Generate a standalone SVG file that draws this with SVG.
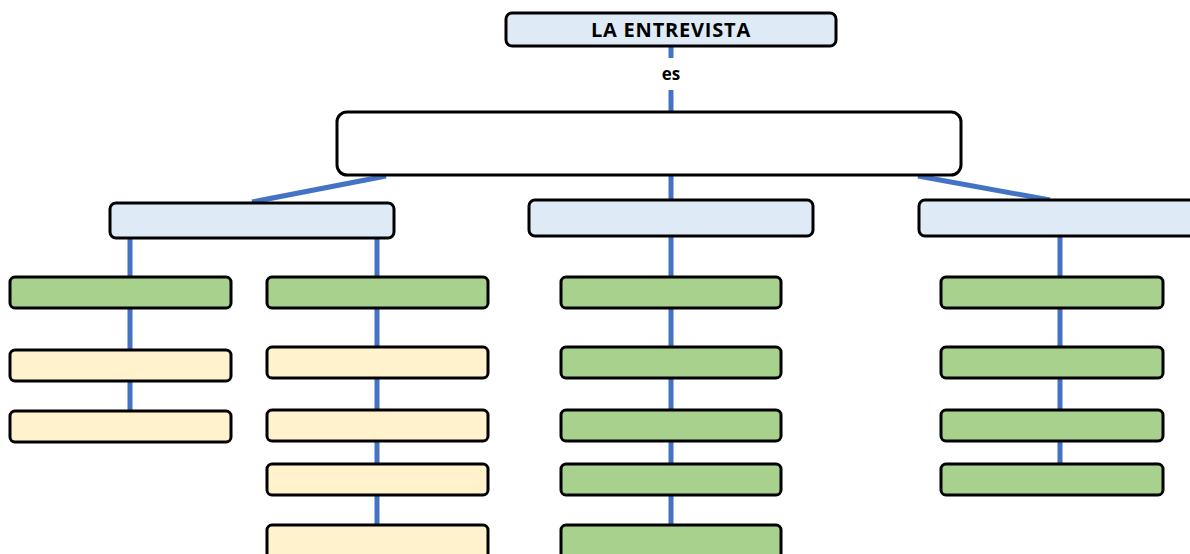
<svg xmlns="http://www.w3.org/2000/svg" width="1190" height="554" viewBox="0 0 1190 554">
<style>
.b{stroke:#000;stroke-width:3;}
.blue{fill:#DEEBF7;}
.green{fill:#A9D18E;}
.yel{fill:#FFF2CC;}
.wh{fill:#fff;}
.c{stroke:#4472C4;stroke-width:5;fill:none;}
.t{font-family:"Open Sans","Liberation Sans",sans-serif;font-weight:bold;fill:#000;text-anchor:middle;}
</style>
<rect width="1190" height="554" fill="#fff"/>
<g id="connectors">
<line class="c" x1="671" y1="46" x2="671" y2="58"/>
<line class="c" x1="671" y1="90" x2="671" y2="113"/>
<line class="c" x1="386" y1="176" x2="252" y2="202"/>
<line class="c" x1="918" y1="176" x2="1050" y2="200"/>
<line class="c" x1="671" y1="175" x2="671" y2="526"/>
<line class="c" x1="130" y1="238" x2="130" y2="412"/>
<line class="c" x1="377" y1="238" x2="377" y2="526"/>
<line class="c" x1="1060" y1="236" x2="1060" y2="465"/>
</g>
<text class="t" x="671" y="80" font-size="17">es</text>
<g id="n-root"><rect class="b blue" x="506" y="13" width="330" height="33" rx="6"/><text class="t" x="671" y="37" font-size="20" letter-spacing="0.8">LA ENTREVISTA</text></g>
<g id="n-def"><rect class="b wh" x="337" y="112" width="624" height="63" rx="10"/></g>
<g id="n-l2a"><rect class="b blue" x="110" y="203" width="284" height="35" rx="6"/></g>
<g id="n-l2b"><rect class="b blue" x="529" y="200" width="284" height="36" rx="6"/></g>
<g id="n-l2c"><rect class="b blue" x="919" y="200" width="290" height="36" rx="6"/></g>
<g id="n-c1-1"><rect class="b green" x="10" y="277" width="221" height="31" rx="5"/></g>
<g id="n-c1-2"><rect class="b yel" x="10" y="350" width="221" height="31" rx="5"/></g>
<g id="n-c1-3"><rect class="b yel" x="10" y="411" width="221" height="31" rx="5"/></g>
<g id="n-c2-1"><rect class="b green" x="267" y="277" width="221" height="31" rx="5"/></g>
<g id="n-c2-2"><rect class="b yel" x="267" y="347" width="221" height="31" rx="5"/></g>
<g id="n-c2-3"><rect class="b yel" x="267" y="410" width="221" height="31" rx="5"/></g>
<g id="n-c2-4"><rect class="b yel" x="267" y="464" width="221" height="31" rx="5"/></g>
<g id="n-c2-5"><rect class="b yel" x="267" y="525" width="221" height="40" rx="5"/></g>
<g id="n-c3-1"><rect class="b green" x="561" y="277" width="220" height="31" rx="5"/></g>
<g id="n-c3-2"><rect class="b green" x="561" y="347" width="220" height="31" rx="5"/></g>
<g id="n-c3-3"><rect class="b green" x="561" y="410" width="220" height="31" rx="5"/></g>
<g id="n-c3-4"><rect class="b green" x="561" y="464" width="220" height="31" rx="5"/></g>
<g id="n-c3-5"><rect class="b green" x="561" y="525" width="220" height="40" rx="5"/></g>
<g id="n-c4-1"><rect class="b green" x="941" y="277" width="222" height="31" rx="5"/></g>
<g id="n-c4-2"><rect class="b green" x="941" y="347" width="222" height="31" rx="5"/></g>
<g id="n-c4-3"><rect class="b green" x="941" y="410" width="222" height="31" rx="5"/></g>
<g id="n-c4-4"><rect class="b green" x="941" y="464" width="222" height="31" rx="5"/></g>
</svg>
